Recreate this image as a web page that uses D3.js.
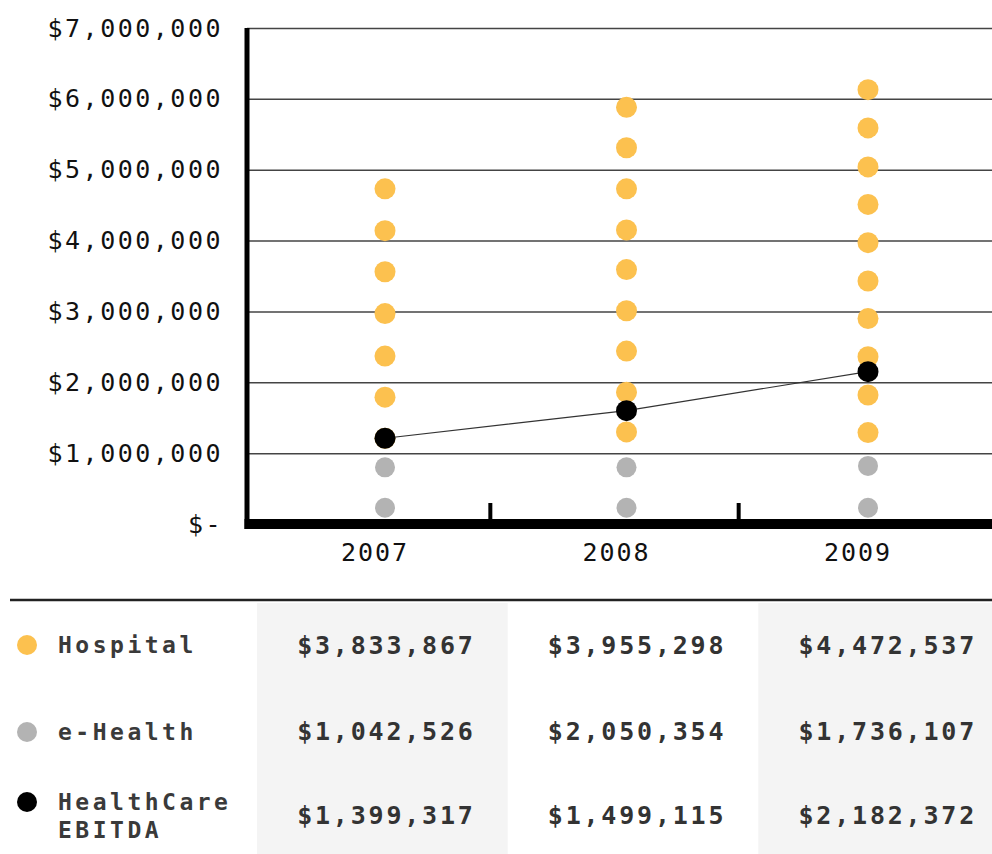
<!DOCTYPE html>
<html>
<head>
<meta charset="utf-8">
<script src="https://cdn.jsdelivr.net/npm/d3@7"></script>
<style>
  body { margin: 0; background: #fff; }
  text { font-family: "DejaVu Sans Mono", monospace; }
</style>
</head>
<body>
<div id="chart"></div>
<script>
// table values
var years = [2007, 2008, 2009];
var hospital = [3833867, 3955298, 4472537];
var eHealth = [1042526, 2050354, 1736107];
var ebitda = [1399317, 1499115, 2182372];

// dots as drawn in the picture (millions)
var hospitalDots = [
  [1.21, 1.79, 2.37, 2.97, 3.56, 4.14, 4.73],
  [1.30, 1.86, 2.44, 3.01, 3.59, 4.15, 4.73, 5.31, 5.88],
  [1.29, 1.82, 2.36, 2.90, 3.43, 3.97, 4.51, 5.04, 5.59, 6.13]
];
var eHealthDots = [
  [0.23, 0.80],
  [0.23, 0.80],
  [0.23, 0.82]
];
var ebitdaDots = [1.21, 1.60, 2.15];

var yTicks = [0, 1, 2, 3, 4, 5, 6, 7];

var colors = { hospital: "#fcc14f", ehealth: "#b3b3b3", ebitda: "#000" };

var svgWidth = 992, svgHeight = 854;
var plot = { left: 247, right: 992, top: 28, bottom: 524 };

var svg = d3.select("#chart")
  .append("svg")
  .attr("width", svgWidth)
  .attr("height", svgHeight);

var yScale = d3.scaleLinear()
  .domain([0, 7])
  .range([plot.bottom, plot.top]);

var xScale = d3.scalePoint()
  .domain(years)
  .range([385, 868]);

// gridlines
svg.append("g")
  .attr("transform", `translate(${plot.left}, 0)`)
  .call(d3.axisRight(yScale).tickValues(yTicks).tickSize(plot.right - plot.left).tickFormat(""))
  .call(g => g.select(".domain").remove())
  .call(g => g.selectAll("line").attr("stroke", "#444").attr("stroke-width", 1.5));

// y labels
svg.append("g")
  .attr("transform", `translate(${plot.left}, 0)`)
  .call(d3.axisLeft(yScale).tickValues(yTicks).tickSize(0).tickPadding(24)
    .tickFormat(d => d === 0 ? "$-" : "$" + d3.format(",")(d * 1e6)))
  .call(g => g.select(".domain").remove())
  .call(g => g.selectAll("text")
    .attr("fill", "#111")
    .attr("font-size", "25px")
    .attr("letter-spacing", "2.5px")
    .attr("font-family", "DejaVu Sans Mono"));

// axis lines
svg.append("line")
  .attr("x1", plot.left).attr("x2", plot.left)
  .attr("y1", plot.top).attr("y2", plot.bottom + 5)
  .attr("stroke", "#000").attr("stroke-width", 5);

svg.append("line")
  .attr("x1", plot.left - 2.5).attr("x2", plot.right)
  .attr("y1", plot.bottom).attr("y2", plot.bottom)
  .attr("stroke", "#000").attr("stroke-width", 10);

// separator ticks between years
var sepScale = d3.scaleBand().domain(years).range([plot.left, plot.right]);
svg.append("g")
  .selectAll("line")
  .data(years.slice(1))
  .enter()
  .append("line")
  .attr("x1", d => sepScale(d) - 5).attr("x2", d => sepScale(d) - 5)
  .attr("y1", plot.bottom).attr("y2", plot.bottom - 21)
  .attr("stroke", "#000").attr("stroke-width", 4);

// year labels
svg.append("g")
  .selectAll("text")
  .data(years)
  .enter()
  .append("text")
  .attr("x", d => xScale(d) - 10)
  .attr("y", 552)
  .attr("dy", "0.35em")
  .attr("text-anchor", "middle")
  .attr("font-size", "25px")
  .attr("letter-spacing", "2px")
  .attr("fill", "#111")
  .text(d => d);

// e-Health and Hospital dots
years.forEach(function(yr, i) {
  svg.append("g")
    .selectAll("circle")
    .data(eHealthDots[i])
    .enter()
    .append("circle")
    .attr("cx", xScale(yr))
    .attr("cy", d => yScale(d))
    .attr("r", 10)
    .attr("fill", colors.ehealth);

  svg.append("g")
    .selectAll("circle")
    .data(hospitalDots[i])
    .enter()
    .append("circle")
    .attr("cx", xScale(yr))
    .attr("cy", d => yScale(d))
    .attr("r", 10.5)
    .attr("fill", colors.hospital);
});

// EBITDA line + dots
var line = d3.line()
  .x((d, i) => xScale(years[i]))
  .y(d => yScale(d));

svg.append("path")
  .datum(ebitdaDots)
  .attr("d", line)
  .attr("fill", "none")
  .attr("stroke", "#333")
  .attr("stroke-width", 1.2);

svg.append("g")
  .selectAll("circle")
  .data(ebitdaDots)
  .enter()
  .append("circle")
  .attr("cx", (d, i) => xScale(years[i]))
  .attr("cy", d => yScale(d))
  .attr("r", 10.5)
  .attr("fill", colors.ebitda);

// ---- table ----
var tableTop = 600;
var colScale = d3.scaleBand()
  .domain(years)
  .range([257, 1009]);

// shaded columns
svg.append("g")
  .selectAll("rect")
  .data([years[0], years[2]])
  .enter()
  .append("rect")
  .attr("x", d => colScale(d))
  .attr("y", tableTop + 3)
  .attr("width", colScale.bandwidth())
  .attr("height", svgHeight - tableTop)
  .attr("fill", "#f4f4f4");

svg.append("line")
  .attr("x1", 10).attr("x2", svgWidth)
  .attr("y1", tableTop).attr("y2", tableTop)
  .attr("stroke", "#222").attr("stroke-width", 2.5);

var rows = [
  { label: ["Hospital"], color: colors.hospital, values: hospital, y: 645, dotY: 645 },
  { label: ["e-Health"], color: colors.ehealth, values: eHealth, y: 731, dotY: 732 },
  { label: ["HealthCare", "EBITDA"], color: colors.ebitda, values: ebitda, y: 815, dotY: 802 }
];

rows.forEach(function(row) {
  svg.append("circle")
    .attr("cx", 27).attr("cy", row.dotY).attr("r", 10)
    .attr("fill", row.color);

  var lab = svg.append("text")
    .attr("x", 58)
    .attr("y", row.dotY)
    .attr("font-size", "23px")
    .attr("font-weight", "bold")
    .attr("letter-spacing", "3.5px")
    .attr("fill", "#3a3a3a");
  lab.selectAll("tspan")
    .data(row.label)
    .enter()
    .append("tspan")
    .attr("x", 58)
    .attr("dy", (d, i) => i === 0 ? "0.35em" : "1.2em")
    .text(d => d);

  svg.append("g")
    .selectAll("text")
    .data(row.values)
    .enter()
    .append("text")
    .attr("x", (d, i) => colScale(years[i]) + colScale.bandwidth() - 32)
    .attr("y", row.y)
    .attr("dy", "0.35em")
    .attr("text-anchor", "end")
    .attr("font-size", "25px")
    .attr("font-weight", "bold")
    .attr("letter-spacing", "2.8px")
    .attr("fill", "#333")
    .text(d => "$" + d3.format(",")(d));
});
</script>
</body>
</html>
